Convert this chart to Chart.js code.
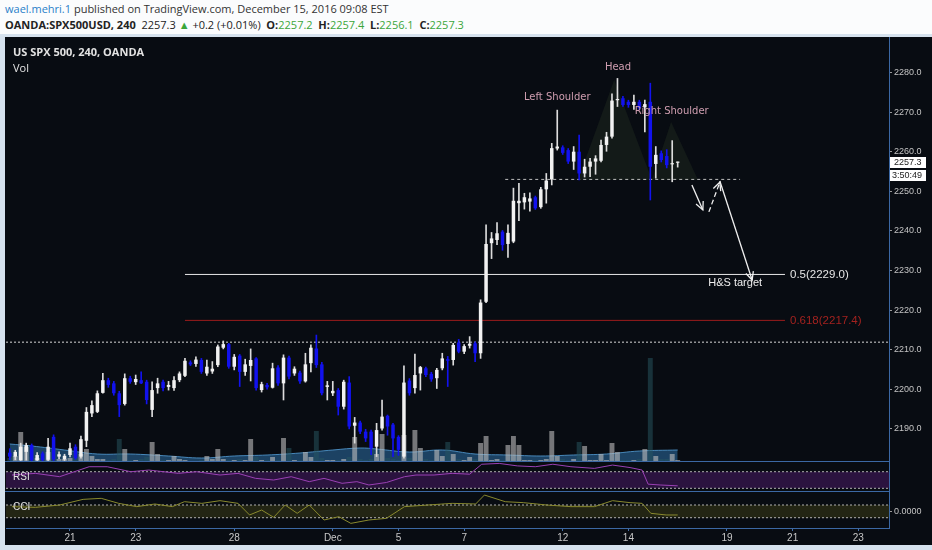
<!DOCTYPE html>
<html>
<head>
<meta charset="utf-8">
<script src="https://cdn.jsdelivr.net/npm/chart.js@4.4.0/dist/chart.umd.min.js"></script>
<style>
  body { margin: 0; width: 932px; height: 550px; background: #fbfcfd; position: relative; overflow: hidden; font-family: "Open Sans", Arial, sans-serif; }
  #h1 { position: absolute; left: 5px; top: 1px; font-size: 11px; color: #333; white-space: nowrap; }
  #h1 .u { color: #2a7fc9; }
  #h2 { position: absolute; left: 5px; top: 17px; font-size: 11px; color: #222; white-space: nowrap; }
  .g { color: #3aa63a; }
  #back { position: absolute; left: 0; top: 34px; width: 932px; height: 516px; background: #d6e2ee; }
  #frame { position: absolute; left: 5px; top: 37px; width: 927px; height: 508px; background: #080c12; }
  canvas { position: absolute; left: 6px; }
  .lbl { position: absolute; color: #e2e2e2; white-space: nowrap; }
  .sep { position: absolute; left: 5px; width: 884px; height: 1px; background: #3b68a4; }
</style>
</head>
<body>
<div id="h1"><span class="u">wael.mehri.1</span> published on TradingView.com, December 15, 2016 09:08 EST</div>
<div id="h2"></div>
<div id="back"></div>
<div id="frame"></div>
<canvas id="main" width="926" height="425" style="top:37px"></canvas>
<canvas id="rsi" width="926" height="30" style="top:462px"></canvas>
<canvas id="cci" width="926" height="53" style="top:492px"></canvas>
<div class="sep" style="top:461px"></div>
<div class="sep" style="top:491px"></div>
<div class="lbl" style="left:13px;top:44px;font-size:11px;font-weight:bold">US SPX 500, 240, OANDA</div>
<div class="lbl" style="left:13px;top:60px;font-size:11px">Vol</div>
<div class="lbl" style="left:13px;top:471px;font-size:10px;font-family:Arial">RSI</div>
<div class="lbl" style="left:13px;top:501px;font-size:10px;font-family:Arial">CCI</div>
<script>
// 240 min bars, Nov 17 .. Dec 15 2016
const opens = [
  2184.0, 2183.0, 2182.1, 2184.2, 2185.9, 2182.1, 2183.8, 2182.2, 2188.0, 2183.0,
  2182.3, 2183.4, 2185.5, 2183.0, 2187.0, 2193.9, 2194.3, 2199.1, 2202.3, 2201.5,
  2199.0, 2196.3, 2202.8, 2201.8, 2202.3, 2201.9, 2194.8, 2200.3, 2201.9, 2200.6,
  2200.3, 2202.3, 2203.4, 2206.8, 2206.4, 2207.4, 2204.0, 2204.5, 2206.1, 2210.5,
  2211.4, 2205.7, 2208.5, 2204.4, 2205.9, 2207.8, 2199.8, 2201.1, 2200.4, 2205.5,
  2201.5, 2208.0, 2204.0, 2204.2, 2202.0, 2206.6, 2210.3, 2206.3, 2200.6, 2199.0,
  2199.8, 2195.6, 2201.7, 2190.8, 2191.6, 2189.3, 2189.3, 2185.5, 2190.1, 2193.3,
  2191.1, 2188.0, 2183.0, 2202.2, 2200.3, 2204.0, 2205.3, 2203.9, 2202.8, 2205.3,
  2207.6, 2207.4, 2211.8, 2209.5, 2211.0, 2211.6, 2209.1, 2222.1, 2236.9, 2237.7,
  2239.8, 2236.7, 2237.3, 2247.0, 2247.2, 2247.4, 2248.5, 2246.0, 2250.5, 2253.0,
  2260.8, 2261.1, 2260.4, 2257.5, 2260.0, 2254.5, 2256.2, 2257.5, 2257.7, 2261.7,
  2263.8, 2273.0, 2273.5, 2272.6, 2271.8, 2272.6, 2271.2, 2272.6, 2256.9, 2259.6,
  2258.9, 2256.8, 2257.2
];
const highs = [
  2185.0, 2184.6, 2186.4, 2186.4, 2186.2, 2184.0, 2184.2, 2187.6, 2188.5, 2184.2,
  2183.6, 2186.4, 2186.0, 2188.2, 2195.4, 2197.1, 2199.6, 2204.0, 2202.8, 2202.0,
  2199.5, 2203.9, 2203.3, 2203.6, 2204.4, 2202.3, 2201.9, 2202.8, 2202.3, 2202.0,
  2203.2, 2204.4, 2207.8, 2207.2, 2208.2, 2207.8, 2207.4, 2207.0, 2211.2, 2212.2,
  2211.6, 2208.8, 2208.8, 2207.6, 2210.2, 2208.0, 2201.8, 2201.5, 2206.6, 2206.0,
  2208.7, 2208.4, 2205.7, 2204.6, 2209.1, 2211.2, 2213.7, 2206.8, 2202.0, 2202.0,
  2200.2, 2202.3, 2203.2, 2192.9, 2192.0, 2189.9, 2189.7, 2191.4, 2197.3, 2193.5,
  2191.4, 2188.3, 2205.9, 2202.7, 2208.9, 2205.8, 2205.6, 2204.3, 2205.3, 2209.1,
  2208.3, 2211.6, 2212.6, 2211.3, 2213.3, 2212.0, 2222.6, 2241.5, 2239.6, 2242.1,
  2240.1, 2241.5, 2250.8, 2252.0, 2249.5, 2249.6, 2248.8, 2251.0, 2254.5, 2262.1,
  2270.5, 2261.5, 2260.8, 2261.3, 2264.2, 2258.1, 2258.3, 2259.0, 2262.9, 2264.9,
  2274.6, 2278.5, 2274.0, 2273.0, 2274.3, 2273.0, 2273.0, 2277.3, 2261.3, 2260.2,
  2260.5, 2262.8, 2257.4
];
const lows = [
  2182.2, 2182.2, 2182.0, 2182.1, 2181.9, 2181.9, 2181.9, 2182.0, 2182.0, 2182.5,
  2182.0, 2182.9, 2182.3, 2182.6, 2185.5, 2193.1, 2194.1, 2199.0, 2200.5, 2198.5,
  2193.1, 2196.0, 2201.5, 2201.2, 2201.4, 2196.3, 2193.1, 2199.0, 2199.6, 2199.8,
  2199.7, 2201.9, 2203.2, 2206.0, 2205.8, 2204.0, 2203.5, 2204.0, 2205.7, 2210.2,
  2205.3, 2204.9, 2200.7, 2203.5, 2202.1, 2199.8, 2199.3, 2200.0, 2200.3, 2201.0,
  2197.3, 2202.6, 2203.5, 2201.5, 2201.8, 2204.4, 2205.5, 2198.6, 2197.3, 2198.4,
  2193.5, 2195.0, 2190.0, 2186.4, 2188.8, 2186.8, 2183.5, 2183.0, 2189.7, 2188.4,
  2183.0, 2183.3, 2182.6, 2198.5, 2199.0, 2199.8, 2203.2, 2202.0, 2200.2, 2204.9,
  2200.7, 2206.1, 2209.2, 2209.0, 2210.4, 2207.0, 2207.8, 2221.9, 2233.0, 2236.5,
  2235.1, 2233.3, 2237.0, 2242.6, 2245.5, 2245.0, 2245.4, 2245.7, 2247.0, 2251.6,
  2260.4, 2259.3, 2257.0, 2255.5, 2252.9, 2253.6, 2253.7, 2254.3, 2257.4, 2260.1,
  2263.4, 2271.4, 2271.4, 2271.2, 2270.7, 2270.6, 2265.0, 2247.8, 2253.3, 2257.4,
  2255.9, 2252.4, 2256.1
];
const closes = [
  2183.0, 2184.2, 2185.5, 2185.9, 2182.1, 2183.4, 2182.1, 2185.5, 2182.3, 2183.6,
  2183.2, 2185.1, 2182.6, 2187.4, 2194.3, 2196.0, 2199.0, 2202.3, 2201.1, 2199.0,
  2196.0, 2202.8, 2201.9, 2202.6, 2201.5, 2197.3, 2199.8, 2201.5, 2200.3, 2201.1,
  2202.3, 2204.0, 2207.2, 2206.3, 2207.5, 2204.4, 2205.7, 2205.2, 2210.8, 2211.4,
  2205.7, 2208.2, 2204.4, 2206.3, 2207.4, 2200.3, 2201.3, 2200.5, 2205.3, 2201.5,
  2208.0, 2203.2, 2205.2, 2202.0, 2206.3, 2210.5, 2206.1, 2199.0, 2201.0, 2199.6,
  2195.6, 2201.9, 2190.6, 2191.6, 2189.3, 2187.6, 2185.1, 2189.7, 2193.1, 2190.6,
  2187.6, 2184.7, 2201.7, 2199.0, 2203.6, 2205.6, 2203.6, 2202.5, 2204.9, 2207.8,
  2207.2, 2211.2, 2209.5, 2210.9, 2211.5, 2209.1, 2221.9, 2236.7, 2238.1, 2239.4,
  2236.4, 2239.5, 2247.6, 2247.6, 2248.5, 2248.2, 2245.7, 2250.5, 2252.7, 2260.9,
  2261.3, 2259.7, 2257.5, 2260.0, 2254.5, 2256.2, 2257.5, 2258.3, 2261.7, 2263.8,
  2272.9, 2273.3, 2271.8, 2271.8, 2272.6, 2271.0, 2272.0, 2256.2, 2259.2, 2257.9,
  2256.6, 2257.1, 2257.3
];
const volumes = [
  4, 6, 30, 15, 5, 4, 4, 10, 12, 3,
  3, 4, 5, 8, 13, 6, 3, 3, 2, 3,
  23, 13, 2, 2, 3, 5, 20, 8, 2, 2,
  6, 3, 2, 1, 1, 2, 6, 3, 13, 3,
  2, 2, 3, 2, 23, 5, 2, 2, 5, 2,
  24, 14, 2, 2, 10, 5, 31, 4, 2, 2,
  2, 3, 5, 25, 3, 2, 3, 8, 28, 4,
  3, 2, 27, 4, 32, 14, 3, 2, 12, 6,
  20, 8, 3, 2, 5, 3, 19, 26, 2, 3,
  2, 17, 26, 17, 2, 2, 2, 2, 3, 31,
  6, 3, 2, 3, 20, 16, 2, 2, 8, 2,
  19, 10, 2, 2, 2, 3, 13, 104, 6, 3,
  3, 8, 2
];
// volume moving average, read at [bar index, value]
const volAvg = [[0, 18], [4, 16], [10, 12], [16, 8], [22, 8], [29, 6], [35, 4], [41, 6], [47, 7], [53, 9],
  [59, 12], [64, 14], [67, 13], [73, 10], [79, 12], [85, 8], [91, 7], [97, 6], [103, 7], [109, 8], [115, 11], [122, 12]];
const rsiPts = [[0.4, 62], [4.7, 66], [9.1, 58], [14.5, 82], [17.8, 82], [22.1, 70], [25.4, 74], [30.8, 66], [34.1, 70],
  [38.4, 62], [41.7, 66], [44.9, 54], [48.2, 50], [51.4, 58], [54.7, 46], [57.4, 54], [60.7, 42], [63.4, 46], [65.6, 38],
  [68.8, 44], [72.1, 58], [74.2, 62], [77.5, 62], [80.8, 66], [84.0, 64], [86.2, 88], [89.4, 90], [92.7, 84], [96.0, 82],
  [99.2, 88], [102.5, 82], [106.8, 78], [110.1, 86], [113.3, 80], [115.5, 74], [116.6, 40], [118.8, 38], [122.0, 36]];
const cciPts = [[0.4, 74], [4.7, 63], [9.1, 100], [13.4, 189], [16.7, 205], [19.9, 126], [23.2, 74], [26.5, 116], [29.7, 74],
  [31.9, 152], [35.1, 126], [38.4, 168], [41.7, 126], [43.8, -57], [46.0, 21], [48.2, -94], [50.3, 100], [52.5, -31],
  [54.7, 100], [57.4, -136], [60.1, -84], [62.3, -189], [65.6, -136], [68.8, -110], [72.1, 74], [76.4, 100], [80.8, 126],
  [85.1, 116], [86.7, 257], [90.5, 152], [93.8, 137], [98.1, 100], [102.5, 74], [106.8, 74], [110.1, 168], [113.3, 137],
  [115.5, 126], [117.1, -31], [119.9, -57], [122.0, -57]];

const dayIdx = [11, 23, 41, 59, 71, 83, 101, 113, 131, 143, 155];
const dayNames = ['21', '23', '28', 'Dec', '5', '7', '12', '14', '19', '21', '23'];
const priceTicks = [2190, 2200, 2210, 2220, 2230, 2240, 2250, 2260, 2270, 2280];

const fibLevels = [2229.0, 2217.4];
const fibNames = ['0.5', '0.618'];
const fibSpan = [32, 141.6];
const neckline = 2253.0;
const necklineSpan = [90.5, 133.4];
const prevLevel = 2211.9;
// head & right shoulder outlines: [bar index, price]
const shoulders = [
  [[103.8, 2252.9], [110.4, 2278.1], [117.3, 2252.9]],
  [[117.3, 2252.9], [120.8, 2267.5], [125.7, 2252.9]]
];
const patternNotes = [['Left Shoulder', 100.0, 2273.8], ['Head', 111.1, 2281.4], ['Right Shoulder', 120.9, 2270.1]];
const arrows = [
  [[124.6, 2251.6], [126.6, 2245.3], false],
  [[127.7, 2244.8], [129.7, 2252.3], true],
  [[129.7, 2252.6], [135.6, 2227.6], false]
];
const targetNote = ['H&S target', 132.5, 2226.8];
const countdown = '3:50:49';

const XMIN = -0.69, XMAX = 160.6;
const UP = '#f2f2f2', DOWN = '#1212ee';
const last = closes.length - 1;
const isUp = i => closes[i] >= opens[i];

// header line with last bar values
const chg = closes[last] - closes[last - 1];
const sign = chg >= 0 ? '+' : '';
document.getElementById('h2').innerHTML =
  '<b>OANDA:SPX500USD, 240</b>&nbsp; ' + closes[last].toFixed(1) + ' <span class="g">&#9650;</span> ' +
  sign + chg.toFixed(1) + ' (' + sign + (chg / closes[last - 1] * 100).toFixed(2) + '%)&nbsp; ' +
  '<b>O:</b><span class="g">' + opens[last].toFixed(1) + '</span>&nbsp; <b>H:</b><span class="g">' + highs[last].toFixed(1) +
  '</span>&nbsp; <b>L:</b><span class="g">' + lows[last].toFixed(1) + '</span>&nbsp; <b>C:</b><span class="g">' + closes[last].toFixed(1) + '</span>';

// fixed axis width, and no extra label padding squeezing the panels
const fixWidth = s => { s.width = 43; s.paddingTop = 0; s.paddingBottom = 0; };
const seg = (a, b, y) => [{ x: a, y: y }, { x: b, y: y }];

function arrowHead(ctx, x1, y1, x2, y2) {
  const a = Math.atan2(y2 - y1, x2 - x1);
  ctx.beginPath();
  ctx.moveTo(x2 - 9 * Math.cos(a - 0.45), y2 - 9 * Math.sin(a - 0.45));
  ctx.lineTo(x2, y2);
  ctx.lineTo(x2 - 9 * Math.cos(a + 0.45), y2 - 9 * Math.sin(a + 0.45));
  ctx.stroke();
}

const notesPlugin = {
  id: 'notes',
  afterDatasetsDraw(chart) {
    const { ctx } = chart;
    const x = chart.scales.x, y = chart.scales.y;
    ctx.save();
    ctx.font = '10px Verdana, "DejaVu Sans", sans-serif';
    ctx.fillStyle = '#cf9eb0';
    ctx.textAlign = 'center';
    ctx.textBaseline = 'middle';
    patternNotes.forEach(n => ctx.fillText(n[0], x.getPixelForValue(n[1]), y.getPixelForValue(n[2])));

    ctx.strokeStyle = '#f0f0f0';
    ctx.lineWidth = 1.3;
    arrows.forEach(a => {
      const x1 = x.getPixelForValue(a[0][0]), y1 = y.getPixelForValue(a[0][1]);
      const x2 = x.getPixelForValue(a[1][0]), y2 = y.getPixelForValue(a[1][1]);
      ctx.setLineDash(a[2] ? [5, 3] : []);
      ctx.beginPath(); ctx.moveTo(x1, y1); ctx.lineTo(x2, y2); ctx.stroke();
      ctx.setLineDash([]);
      arrowHead(ctx, x1, y1, x2, y2);
    });

    ctx.font = '11px Arial, sans-serif';
    ctx.fillStyle = '#eeeeee';
    ctx.fillText(targetNote[0], x.getPixelForValue(targetNote[1]), y.getPixelForValue(targetNote[2]));

    ctx.textAlign = 'left';
    ctx.font = '11.5px Arial, sans-serif';
    fibLevels.forEach((lv, k) => {
      ctx.fillStyle = k === 0 ? '#e6e6e6' : '#a3221f';
      ctx.fillText(fibNames[k] + '(' + lv.toFixed(1) + ')', x.getPixelForValue(fibSpan[1]) + 5, y.getPixelForValue(lv));
    });
    ctx.restore();
  },
  afterDraw(chart) {
    const { ctx } = chart;
    const y = chart.scales.y;
    const left = chart.chartArea.right;
    const py = Math.round(y.getPixelForValue(closes[last]));
    ctx.save();
    ctx.fillStyle = '#ffffff';
    ctx.fillRect(left + 1, py - 5, 36, 11);
    ctx.fillRect(left + 1, py + 8, 36, 11);
    ctx.fillStyle = '#222';
    ctx.font = '9px Arial, sans-serif';
    ctx.textAlign = 'left';
    ctx.textBaseline = 'middle';
    ctx.fillText(closes[last].toFixed(1), left + 5, py + 0.5);
    ctx.fillText(countdown, left + 3, py + 13.5);
    ctx.restore();
  }
};

const xHidden = { type: 'linear', min: XMIN, max: XMAX, offset: false, display: false };

// main price + volume panel
new Chart(document.getElementById('main'), {
  type: 'bar',
  data: {
    datasets: [
      {
        type: 'line', data: volAvg.map(p => ({ x: p[0], y: p[1] })), yAxisID: 'yVol', order: 12,
        fill: 'origin', backgroundColor: 'rgba(46,112,165,0.55)', borderColor: 'rgba(78,146,200,0.9)',
        borderWidth: 1, pointRadius: 0, tension: 0.4
      },
      {
        data: volumes.map((v, i) => ({ x: i, y: v })), yAxisID: 'yVol', order: 11, grouped: false,
        backgroundColor: volumes.map((v, i) => isUp(i) ? 'rgba(190,190,190,0.6)' : 'rgba(40,88,98,0.5)'),
        barPercentage: 0.9, categoryPercentage: 1
      },
      ...shoulders.map(s => ({
        type: 'line', data: s.map(p => ({ x: p[0], y: p[1] })), yAxisID: 'y', order: 10,
        fill: { value: s[0][1] }, backgroundColor: 'rgba(66,86,48,0.2)', borderWidth: 0, pointRadius: 0
      })),
      {
        type: 'line', data: seg(XMIN, XMAX, prevLevel), yAxisID: 'y', order: 9,
        borderColor: '#d8d8d8', borderWidth: 1, borderDash: [2, 2], pointRadius: 0
      },
      {
        type: 'line', data: seg(necklineSpan[0], necklineSpan[1], neckline), yAxisID: 'y', order: 9,
        borderColor: '#bdbdbd', borderWidth: 1, borderDash: [3, 3], pointRadius: 0
      },
      ...fibLevels.map((lv, k) => ({
        type: 'line', data: seg(fibSpan[0], fibSpan[1], lv), yAxisID: 'y', order: 8,
        borderColor: k === 0 ? '#e8e8e8' : '#9a1c1c', borderWidth: 1, pointRadius: 0
      })),
      {
        data: lows.map((l, i) => ({ x: i, y: [l, highs[i]] })), yAxisID: 'y', order: 2, grouped: false,
        backgroundColor: lows.map((l, i) => isUp(i) ? '#dcdcdc' : DOWN), barThickness: 1
      },
      {
        data: opens.map((o, i) => {
          let a = Math.min(o, closes[i]), b = Math.max(o, closes[i]);
          if (b - a < 0.3) { b = a + 0.3; }
          return { x: i, y: [a, b] };
        }),
        yAxisID: 'y', order: 1, grouped: false,
        backgroundColor: opens.map((o, i) => isUp(i) ? UP : DOWN),
        barPercentage: 0.64, categoryPercentage: 1
      }
    ]
  },
  options: {
    responsive: false,
    animation: false,
    plugins: { legend: { display: false }, tooltip: { enabled: false } },
    scales: {
      x: xHidden,
      y: {
        position: 'right', min: 2181.64, max: 2288.96,
        afterBuildTicks: s => { s.ticks = priceTicks.map(v => ({ value: v })); },
        afterFit: fixWidth,
        ticks: { color: '#c4c4c4', font: { family: 'Arial', size: 9 }, padding: 2, callback: v => v.toFixed(1) },
        grid: { drawOnChartArea: false, tickLength: 3, color: '#9a9a9a' },
        border: { color: '#3b68a4' }
      },
      yVol: { display: false, min: 0, max: 425 }
    }
  },
  plugins: [notesPlugin]
});

// RSI panel
new Chart(document.getElementById('rsi'), {
  type: 'line',
  data: {
    datasets: [
      { data: seg(XMIN, XMAX, 70), borderColor: '#b0b0b0', borderWidth: 1, borderDash: [2, 2], pointRadius: 0, order: 3 },
      { data: seg(XMIN, XMAX, 30), borderColor: '#b0b0b0', borderWidth: 1, borderDash: [2, 2], pointRadius: 0, order: 3,
        fill: '-1', backgroundColor: 'rgba(72,26,100,0.55)' },
      { data: rsiPts.map(p => ({ x: p[0], y: p[1] })), borderColor: '#9a40b4', borderWidth: 1, pointRadius: 0, order: 1 }
    ]
  },
  options: {
    responsive: false,
    animation: false,
    plugins: { legend: { display: false }, tooltip: { enabled: false } },
    scales: {
      x: xHidden,
      y: {
        position: 'right', min: 21.1, max: 93.4, afterFit: fixWidth,
        ticks: { display: false },
        grid: { drawOnChartArea: false, drawTicks: false },
        border: { color: '#3b68a4' }
      }
    }
  }
});

// CCI panel with the date axis
new Chart(document.getElementById('cci'), {
  type: 'line',
  data: {
    datasets: [
      { data: seg(XMIN, XMAX, 100), borderColor: '#b0b0b0', borderWidth: 1, borderDash: [2, 2], pointRadius: 0, order: 3 },
      { data: seg(XMIN, XMAX, -100), borderColor: '#b0b0b0', borderWidth: 1, borderDash: [2, 2], pointRadius: 0, order: 3,
        fill: '-1', backgroundColor: 'rgba(62,62,22,0.5)' },
      { data: cciPts.map(p => ({ x: p[0], y: p[1] })), borderColor: '#8a8a2e', borderWidth: 1, pointRadius: 0, order: 1 }
    ]
  },
  options: {
    responsive: false,
    animation: false,
    plugins: { legend: { display: false }, tooltip: { enabled: false } },
    scales: {
      x: {
        type: 'linear', min: XMIN, max: XMAX, offset: false,
        afterBuildTicks: s => { s.ticks = dayIdx.map(v => ({ value: v })); },
        afterFit: s => { s.height = 17; s.paddingLeft = 0; s.paddingRight = 0; },
        ticks: { color: '#c8c8c8', font: { family: 'Arial', size: 10 }, padding: 1, autoSkip: false, maxRotation: 0,
          callback: v => dayNames[dayIdx.indexOf(v)] },
        grid: { drawOnChartArea: false, tickLength: 3, color: '#4a73a8' },
        border: { color: '#3b68a4' }
      },
      y: {
        position: 'right', min: -262, max: 304.7, afterFit: fixWidth,
        afterBuildTicks: s => { s.ticks = [{ value: 0 }]; },
        ticks: { color: '#c4c4c4', font: { family: 'Arial', size: 9 }, padding: 2, callback: v => v.toFixed(4) },
        grid: { drawOnChartArea: false, tickLength: 3, color: '#9a9a9a' },
        border: { color: '#3b68a4' }
      }
    }
  }
});
</script>
</body>
</html>
